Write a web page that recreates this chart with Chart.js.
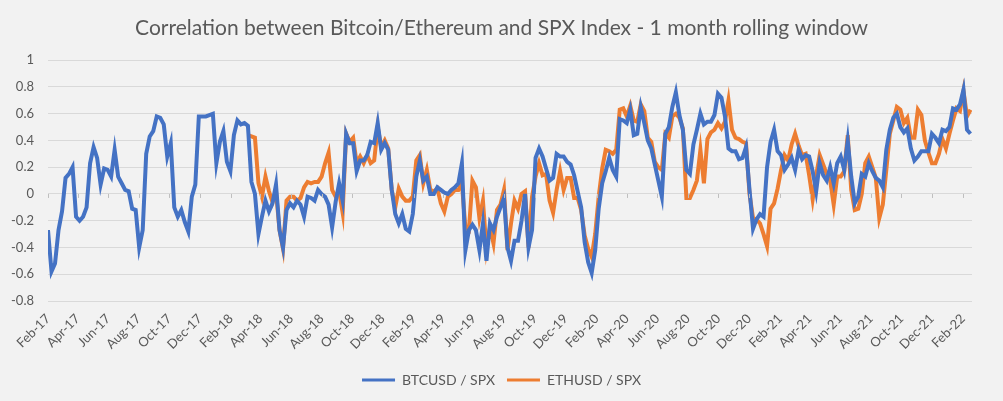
<!DOCTYPE html>
<html>
<head>
<meta charset="utf-8">
<script src="https://cdn.jsdelivr.net/npm/chart.js@4"></script>
<style>
  html, body { margin: 0; padding: 0; background: #f2f2f2; }
  #wrap { width: 1003px; height: 401px; }
</style>
</head>
<body>
<div id="wrap"><canvas id="corrChart" width="1003" height="401"></canvas></div>
<script>
// weekly readings, first week = 1 Feb 2017
const startDate = Date.UTC(2017, 1, 1);
const tickLabels = ['Feb-17', 'Apr-17', 'Jun-17', 'Aug-17', 'Oct-17', 'Dec-17',
    'Feb-18', 'Apr-18', 'Jun-18', 'Aug-18', 'Oct-18', 'Dec-18',
    'Feb-19', 'Apr-19', 'Jun-19', 'Aug-19', 'Oct-19', 'Dec-19',
    'Feb-20', 'Apr-20', 'Jun-20', 'Aug-20', 'Oct-20', 'Dec-20',
    'Feb-21', 'Apr-21', 'Jun-21', 'Aug-21', 'Oct-21', 'Dec-21', 'Feb-22'];

const btcSpx = [
    -0.27, -0.58, -0.52, -0.27, -0.13, 0.12, 0.15, 0.2, -0.17, -0.2,
    -0.17, -0.1, 0.23, 0.35, 0.27, 0.07, 0.19, 0.18, 0.13, 0.33,
    0.13, 0.08, 0.03, 0.02, -0.11, -0.12, -0.4, -0.27, 0.3, 0.43,
    0.47, 0.58, 0.57, 0.52, 0.28, 0.38, -0.1, -0.17, -0.12, -0.21,
    -0.28, -0.02, 0.07, 0.58, 0.58, 0.58, 0.59, 0.6, 0.23, 0.39,
    0.47, 0.24, 0.17, 0.44, 0.55, 0.52, 0.53, 0.51, 0.09, 0,
    -0.3, -0.17, -0.05, -0.13, -0.07, 0.07, -0.27, -0.4, -0.12, -0.07,
    -0.1, -0.05, -0.08, -0.17, -0.02, -0.03, -0.05, 0.03, 0, -0.02,
    -0.08, -0.25, -0.06, 0.08, -0.05, 0.45, 0.38, 0.38, 0.17, 0.25,
    0.25, 0.29, 0.39, 0.38, 0.53, 0.33, 0.38, 0.33, 0.03, -0.15,
    -0.22, -0.15, -0.26, -0.28, -0.15, 0.13, 0.25, 0.1, 0.13, 0,
    0, 0.05, 0.03, 0.01, 0, 0.03, 0.05, 0.08, 0.23, -0.42,
    -0.27, -0.23, -0.27, -0.42, -0.22, -0.5, -0.22, -0.27, -0.17, -0.1,
    -0.03, -0.4, -0.5, -0.35, -0.35, -0.2, 0, -0.4, -0.27, 0.27,
    0.34, 0.28, 0.19, 0.1, 0.12, 0.3, 0.28, 0.28, 0.24, 0.22,
    0.14, 0.02, -0.1, -0.36, -0.51, -0.59, -0.42, -0.11, 0.08, 0.17,
    0.27, 0.18, 0.13, 0.56, 0.55, 0.53, 0.63, 0.44, 0.45, 0.65,
    0.53, 0.4, 0.34, 0.22, 0.1, -0.02, 0.45, 0.5, 0.65, 0.76,
    0.59, 0.48, 0.18, 0.15, 0.37, 0.48, 0.6, 0.52, 0.54, 0.54,
    0.59, 0.75, 0.72, 0.58, 0.34, 0.32, 0.32, 0.26, 0.27, 0.35,
    0.03, -0.26, -0.19, -0.15, -0.17, 0.2, 0.39, 0.48, 0.32, 0.29,
    0.18, 0.22, 0.27, 0.18, 0.33, 0.26, 0.29, 0.28, 0.17, 0.02,
    0.23, 0.14, 0.1, 0.2, 0.08, 0.23, 0.28, 0.18, 0.4, 0.13,
    -0.07, -0.02, 0.15, 0.13, 0.23, 0.17, 0.12, 0.1, 0.05, 0.33,
    0.48, 0.57, 0.6, 0.5, 0.46, 0.49, 0.34, 0.25, 0.28, 0.32,
    0.32, 0.32, 0.45, 0.42, 0.38, 0.48, 0.47, 0.5, 0.64, 0.63,
    0.67, 0.78, 0.48, 0.45
];

// ETH series begins at week 57 (early March 2018)
const ethStartWeek = 57;
const ethSpx = [
    0.44, 0.43, 0.42,
    0.08, -0.02, 0.13, 0.02, -0.06, 0.02, -0.27, -0.41, -0.05, -0.02,
    -0.02, -0.05, -0.03, 0.05, 0.09, 0.08, 0.09, 0.09, 0.13, 0.23,
    0.31, 0.03, -0.02, 0.02, -0.14, 0.45, 0.39, 0.42, 0.23, 0.28,
    0.23, 0.29, 0.23, 0.25, 0.5, 0.35, 0.4, 0.34, 0.03, -0.1,
    0.04, -0.02, -0.05, -0.05, -0.02, 0.25, 0.29, 0.08, 0.18, 0.03,
    0.02, 0.04, -0.07, -0.13, -0.02, 0, 0.03, 0.03, 0.08, -0.25,
    -0.27, 0.1, 0.05, -0.18, -0.05, -0.41, -0.25, -0.37, -0.12, -0.08,
    0.03, -0.42, -0.22, -0.05, -0.11, 0, 0.02, -0.4, -0.02, 0.13,
    0.23, 0.14, 0.15, -0.05, -0.14, 0.03, 0.17, 0.03, 0.12, 0.12,
    -0.03, -0.03, -0.12, -0.31, -0.41, -0.47, -0.3, -0.02, 0.19, 0.33,
    0.32, 0.3, 0.33, 0.63, 0.64, 0.58, 0.66, 0.55, 0.54, 0.67,
    0.62, 0.42, 0.39, 0.24, 0.2, 0.18, 0.45, 0.42, 0.58, 0.6,
    0.57, 0.49, -0.03, -0.03, 0.03, 0.1, 0.33, 0.08, 0.41, 0.46,
    0.48, 0.53, 0.49, 0.54, 0.7, 0.48, 0.42, 0.41, 0.39, 0.38,
    0, -0.18, -0.19, -0.22, -0.3, -0.39, -0.11, -0.07, 0.04, 0.18,
    0.29, 0.25, 0.37, 0.45, 0.36, 0.29, 0.3, 0.14, -0.04, 0.14,
    0.29, 0.22, 0.15, 0.1, -0.08, 0.13, 0.13, 0.17, 0.44, 0.03,
    -0.12, -0.11, 0, 0.23, 0.28, 0.2, 0.12, -0.18, -0.08, 0.18,
    0.45, 0.55, 0.65, 0.63, 0.53, 0.57, 0.42, 0.42, 0.63, 0.59,
    0.4, 0.31, 0.23, 0.23, 0.3, 0.41, 0.34, 0.45, 0.55, 0.64,
    0.62, 0.77, 0.58, 0.63
];

const DAY = 86400000;
const FONT = 'Lato, "Open Sans", sans-serif';

// day offsets of the axis labels (every 2 months)
const tickDays = tickLabels.map((lbl, k) => (Date.UTC(2017, 1 + 2 * k, 1) - startDate) / DAY);

const btcPoints = btcSpx.map((v, i) => ({ x: i * 7, y: v }));
const ethPoints = ethSpx.map((v, i) => ({ x: (ethStartWeek + i) * 7, y: v }));

// small tick marks on the zero line like excel draws them
const zeroTicks = {
    id: 'zeroTicks',
    afterDatasetsDraw(chart) {
        const { ctx, scales: { x, y } } = chart;
        const y0 = y.getPixelForValue(0);
        ctx.save();
        ctx.strokeStyle = '#bfbfbf';
        ctx.lineWidth = 1;
        tickDays.forEach(d => {
            const px = Math.round(x.getPixelForValue(d)) + 0.5;
            ctx.beginPath();
            ctx.moveTo(px, y0);
            ctx.lineTo(px, y0 + 4);
            ctx.stroke();
        });
        ctx.restore();
    }
};

const ctx = document.getElementById('corrChart').getContext('2d');
new Chart(ctx, {
    type: 'line',
    data: {
        datasets: [{
            label: 'BTCUSD / SPX',
            data: btcPoints,
            borderColor: '#4472c4',
            backgroundColor: '#4472c4',
            borderWidth: 4,
            pointRadius: 0,
            tension: 0
        }, {
            label: 'ETHUSD / SPX',
            data: ethPoints,
            borderColor: '#ed7d31',
            backgroundColor: '#ed7d31',
            borderWidth: 4,
            pointRadius: 0,
            tension: 0
        }]
    },
    options: {
        responsive: false,
        animation: false,
        layout: { padding: { left: 0, right: 0, top: 0, bottom: 4 } },
        plugins: {
            title: {
                display: true,
                text: 'Correlation between Bitcoin/Ethereum and SPX Index - 1 month rolling window',
                color: '#595959',
                font: { family: FONT, size: 21, weight: 'normal' },
                padding: { top: 16, bottom: 19 }
            },
            legend: {
                position: 'bottom',
                labels: {
                    color: '#595959',
                    font: { family: FONT, size: 14 },
                    boxWidth: 33,
                    boxHeight: 3,
                    padding: 12,
                    generateLabels(chart) {
                        const items = Chart.defaults.plugins.legend.labels.generateLabels(chart);
                        items.forEach(it => { it.lineWidth = 0; });
                        return items;
                    }
                }
            },
            tooltip: { enabled: false }
        },
        scales: {
            x: {
                type: 'linear',
                min: 0,
                max: 1844,
                grid: { display: false },
                border: { display: false },
                afterBuildTicks(scale) {
                    scale.ticks = tickDays.map(d => ({ value: d }));
                },
                afterFit(scale) { scale.height = 60; },
                ticks: {
                    autoSkip: false,
                    maxRotation: 45,
                    minRotation: 45,
                    color: '#595959',
                    font: { family: FONT, size: 13 },
                    padding: 2,
                    callback: (val, idx) => tickLabels[idx]
                }
            },
            y: {
                min: -0.8,
                max: 1,
                grid: { color: '#d9d9d9', lineWidth: 1, drawTicks: false },
                border: { display: false },
                afterFit(scale) { scale.width = 48; },
                ticks: {
                    stepSize: 0.2,
                    color: '#595959',
                    font: { family: FONT, size: 13 },
                    padding: 14,
                    callback: v => String(Math.round(v * 10) / 10)
                }
            },
            // empty right-hand spacer so the title and legend stay centred on the page
            spacer: {
                position: 'right',
                min: 0,
                max: 1,
                grid: { display: false },
                border: { display: false },
                ticks: { display: false },
                afterFit(scale) { scale.width = 31; }
            }
        }
    },
    plugins: [zeroTicks]
});
</script>
</body>
</html>
